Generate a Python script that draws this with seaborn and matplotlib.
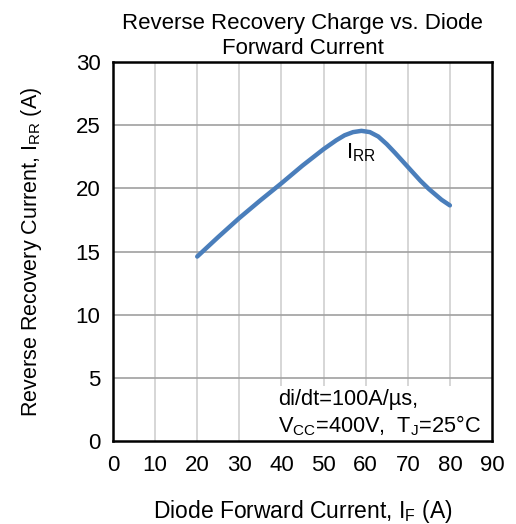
import matplotlib
matplotlib.use("Agg")
import matplotlib.pyplot as plt
import seaborn as sns
import pandas as pd

forward_current = [20, 25, 30, 35, 40, 45, 50, 53, 55, 57, 59, 61, 63, 65, 67, 70, 73, 75, 78, 80]
recovery_current = [14.6, 16.15, 17.65, 19.05, 20.4, 21.8, 23.1, 23.8, 24.2, 24.45, 24.55, 24.45, 24.1, 23.5, 22.8, 21.7, 20.6, 19.95, 19.1, 18.65]
x_ticks = [0, 10, 20, 30, 40, 50, 60, 70, 80, 90]
y_ticks = [0, 5, 10, 15, 20, 25, 30]

df = pd.DataFrame({"IF": forward_current, "IRR": recovery_current})

sns.set_theme(style="white")
plt.rcParams["font.family"] = ["Liberation Sans", "DejaVu Sans"]

fig = plt.figure(figsize=(5.16, 5.24), dpi=100)
ax = fig.add_axes([113/516, 83/524, 379/516, 379/524])

sns.lineplot(data=df, x="IF", y="IRR", ax=ax, color="#4a7ebb", linewidth=3.2)
ax.lines[0].set_solid_joinstyle("round")
ax.lines[0].set_solid_capstyle("round")

ax.set_xlim(0, 90)
ax.set_ylim(0, 30)
ax.set_xticks(x_ticks)
ax.set_yticks(y_ticks)
ax.tick_params(axis="both", labelsize=16, colors="black", length=0)
ax.tick_params(axis="x", pad=10)
ax.tick_params(axis="y", pad=9)
for lbl in ax.get_xticklabels() + ax.get_yticklabels():
    lbl.set_color("black")

for xv in x_ticks[1:-1]:
    ax.axvline(xv, color="#d0d0d0", linewidth=1.2, zorder=0)
for yv in y_ticks[1:-1]:
    ax.axhline(yv, color="#a0a0a0", linewidth=1.2, zorder=0)

for s in ax.spines.values():
    s.set_color("black")
    s.set_linewidth(1.8)
    s.set_zorder(5)

ax.set_xlabel(r"Diode Forward Current, I$_\mathregular{F}$ (A)", fontsize=16.5, labelpad=16, color="black")
ax.set_ylabel(r"Reverse Recovery Current, I$_\mathregular{RR}$ (A)", fontsize=15.5, labelpad=23, color="black")
ax.set_title("Reverse Recovery Charge vs. Diode\nForward Current", fontsize=16, pad=6, color="black", linespacing=1.2)

ax.text(55.3, 22.4, r"I$_\mathregular{RR}$", fontsize=16, color="black")

ax.text(0.435, 0.008,
        "di/dt=100A/\u00b5s,\n" + r"V$_\mathregular{CC}$=400V,  T$_\mathregular{J}$=25" + "\u00b0C",
        transform=ax.transAxes, fontsize=15.7, color="black", va="bottom", ha="left",
        linespacing=1.2, zorder=3,
        bbox=dict(facecolor="white", edgecolor="none", pad=2))

fig.savefig("out.png", dpi=100)
